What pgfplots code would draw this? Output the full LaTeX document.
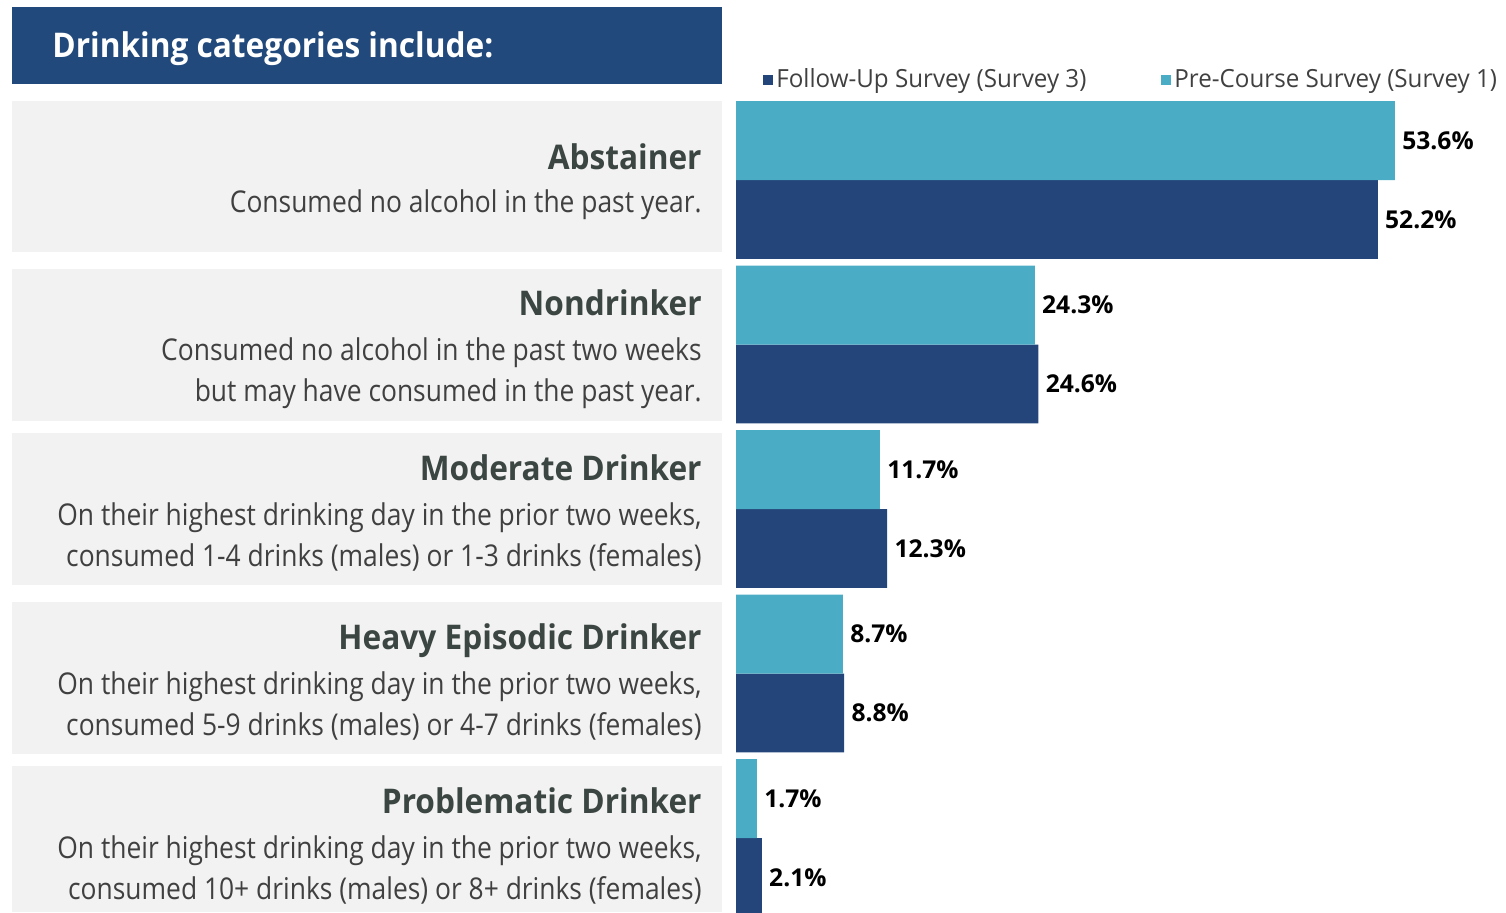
\documentclass[border=0pt]{standalone}
\usepackage{pgfplots}
\pgfplotsset{compat=1.18}
\usepackage{fontspec}
\setmainfont{Open Sans}
\newfontfamily\descfont[FakeStretch=0.88]{Open Sans}
\newfontfamily\ttlfont[FakeStretch=0.93]{Open Sans}
\newfontfamily\legfont[FakeStretch=0.967]{Open Sans}
\definecolor{hdr}{HTML}{21497B}
\definecolor{dark}{HTML}{234579}
\definecolor{light}{HTML}{4BACC6}
\definecolor{panel}{HTML}{F2F2F2}
\definecolor{ttl}{HTML}{3B4643}
\definecolor{txt}{HTML}{404040}
\begin{document}
\begin{tikzpicture}
\begin{scope}[x=0.5pt,y=-0.5pt]
\path[use as bounding box] (0,0) rectangle (1506,912);
\fill[hdr] (12,7) rectangle (722,84);
\node[anchor=base west,inner sep=0,text=white,font=\ttlfont\bfseries\fontsize{17}{20}\selectfont] at (52,57) {Drinking categories include:};
\fill[panel] (12,101) rectangle (722,252);
\fill[panel] (12,269) rectangle (722,421);
\fill[panel] (12,433) rectangle (722,585);
\fill[panel] (12,602) rectangle (722,754);
\fill[panel] (12,766) rectangle (722,912);
\tikzset{ttl/.style={anchor=base east,inner sep=0,text=ttl,font=\ttlfont\bfseries\fontsize{17}{20}\selectfont},
  dsc/.style={anchor=base east,inner sep=0,text=txt,font=\descfont\fontsize{15}{18}\selectfont}}
\node[ttl] at (702,169) {Abstainer};
\node[dsc] at (702,212) {Consumed no alcohol in the past year.};
\node[ttl] at (702,315) {Nondrinker};
\node[dsc] at (702,360) {Consumed no alcohol in the past two weeks};
\node[dsc] at (702,401) {but may have consumed in the past year.};
\node[ttl] at (702,480) {Moderate Drinker};
\node[dsc] at (702,525) {On their highest drinking day in the prior two weeks,};
\node[dsc] at (702,566) {consumed 1-4 drinks (males) or 1-3 drinks (females)};
\node[ttl] at (702,649) {Heavy Episodic Drinker};
\node[dsc] at (702,694) {On their highest drinking day in the prior two weeks,};
\node[dsc] at (702,735) {consumed 5-9 drinks (males) or 4-7 drinks (females)};
\node[ttl] at (702,813) {Problematic Drinker};
\node[dsc] at (702,858) {On their highest drinking day in the prior two weeks,};
\node[dsc] at (702,899) {consumed 10+ drinks (males) or 8+ drinks (females)};
\end{scope}
\begin{axis}[at={(368pt,-456pt)}, anchor=south west, scale only axis,
  width=385pt, height=407.5pt, xmin=0, xmax=62.63, ymin=-0.5046, ymax=4.4498,
  y dir=reverse, hide axis, xbar, bar width=0.48, bar shift=0pt,
  nodes near coords={\pgfmathprintnumber[fixed,fixed zerofill,precision=1,assume math mode=true]{\pgfplotspointmeta}\%},
  nodes near coords style={anchor=west,inner sep=0,xshift=3.5pt,text=black,font=\bfseries\fontsize{12.3}{14}\selectfont},
  point meta=x,
  legend columns=2,
  legend style={at={(0.035,1.021)},anchor=west,draw=none,fill=none,inner sep=0pt,
    font=\legfont\fontsize{12.5}{15}\selectfont,text=txt,
    nodes={inner xsep=1.5pt,inner ysep=0pt},
    /tikz/every even column/.append style={column sep=36pt}},
  legend image code/.code={\fill[#1] (0pt,-2.5pt) rectangle (5pt,2.5pt);},
]
\addplot[fill=dark,draw=none] coordinates {(52.2,0.24) (24.6,1.24) (12.3,2.24) (8.8,3.24) (2.1,4.24)};
\addlegendentry{Follow-Up Survey (Survey 3)}
\addplot[fill=light,draw=none] coordinates {(53.6,-0.24) (24.3,0.76) (11.7,1.76) (8.7,2.76) (1.7,3.76)};
\addlegendentry{Pre-Course Survey (Survey 1)}
\end{axis}
\end{tikzpicture}
\end{document}
